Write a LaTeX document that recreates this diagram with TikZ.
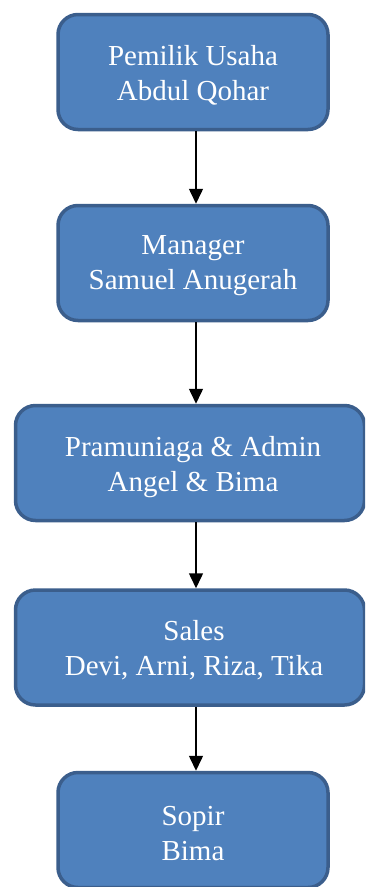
\documentclass[tikz,border=0pt]{standalone}
\usepackage{fontspec}
\setmainfont{Liberation Serif}
\usetikzlibrary{arrows.meta}
\definecolor{boxfill}{HTML}{4F81BD}
\definecolor{boxline}{HTML}{3B5E8C}
\begin{document}
\begin{tikzpicture}[x=1pt,y=-1pt,
  orgbox/.style={draw=boxline, fill=boxfill, line width=3.5pt, rounded corners=20pt,
    inner sep=0pt, minimum height=115pt},
  narrow/.style={orgbox, minimum width=270pt},
  wide/.style={orgbox, minimum width=349pt},
  lbl/.style={text=white, align=center, inner sep=0pt, font=\fontsize{29}{35}\selectfont},
  conn/.style={line width=1.5pt, -{Triangle[length=15pt,width=14pt]}}]
\useasboundingbox (0,0) rectangle (365,887);
\begin{scope}
\clip (0,0) rectangle (365,887);
\node[narrow] (owner) at (193,72) {};
\node[narrow] (mgr) at (193,263) {};
\node[wide] (adm) at (190,463) {};
\node[wide] (sales) at (190,647.5) {};
\node[narrow] (sopir) at (193,830) {};
\node[lbl] (t1) at (193,75) {Pemilik Usaha\\Abdul Qohar};
\node[lbl] (t2) at (193,266) {Manager\\Samuel Anugerah};
\node[lbl] (t3) at (193,467) {Pramuniaga \& Admin\\Angel \& Bima};
\node[lbl] (t4) at (194,650) {Sales\\Devi, Arni, Riza, Tika};
\node[lbl] (t5) at (193,834) {Sopir\\Bima};
\draw[conn] (owner.south -| 196,0) -- (mgr.north -| 196,0);
\draw[conn] (mgr.south -| 196,0) -- (adm.north -| 196,0);
\draw[conn] (adm.south -| 196,0) -- (sales.north -| 196,0);
\draw[conn] (sales.south -| 196,0) -- (sopir.north -| 196,0);
\end{scope}
\end{tikzpicture}
\end{document}
